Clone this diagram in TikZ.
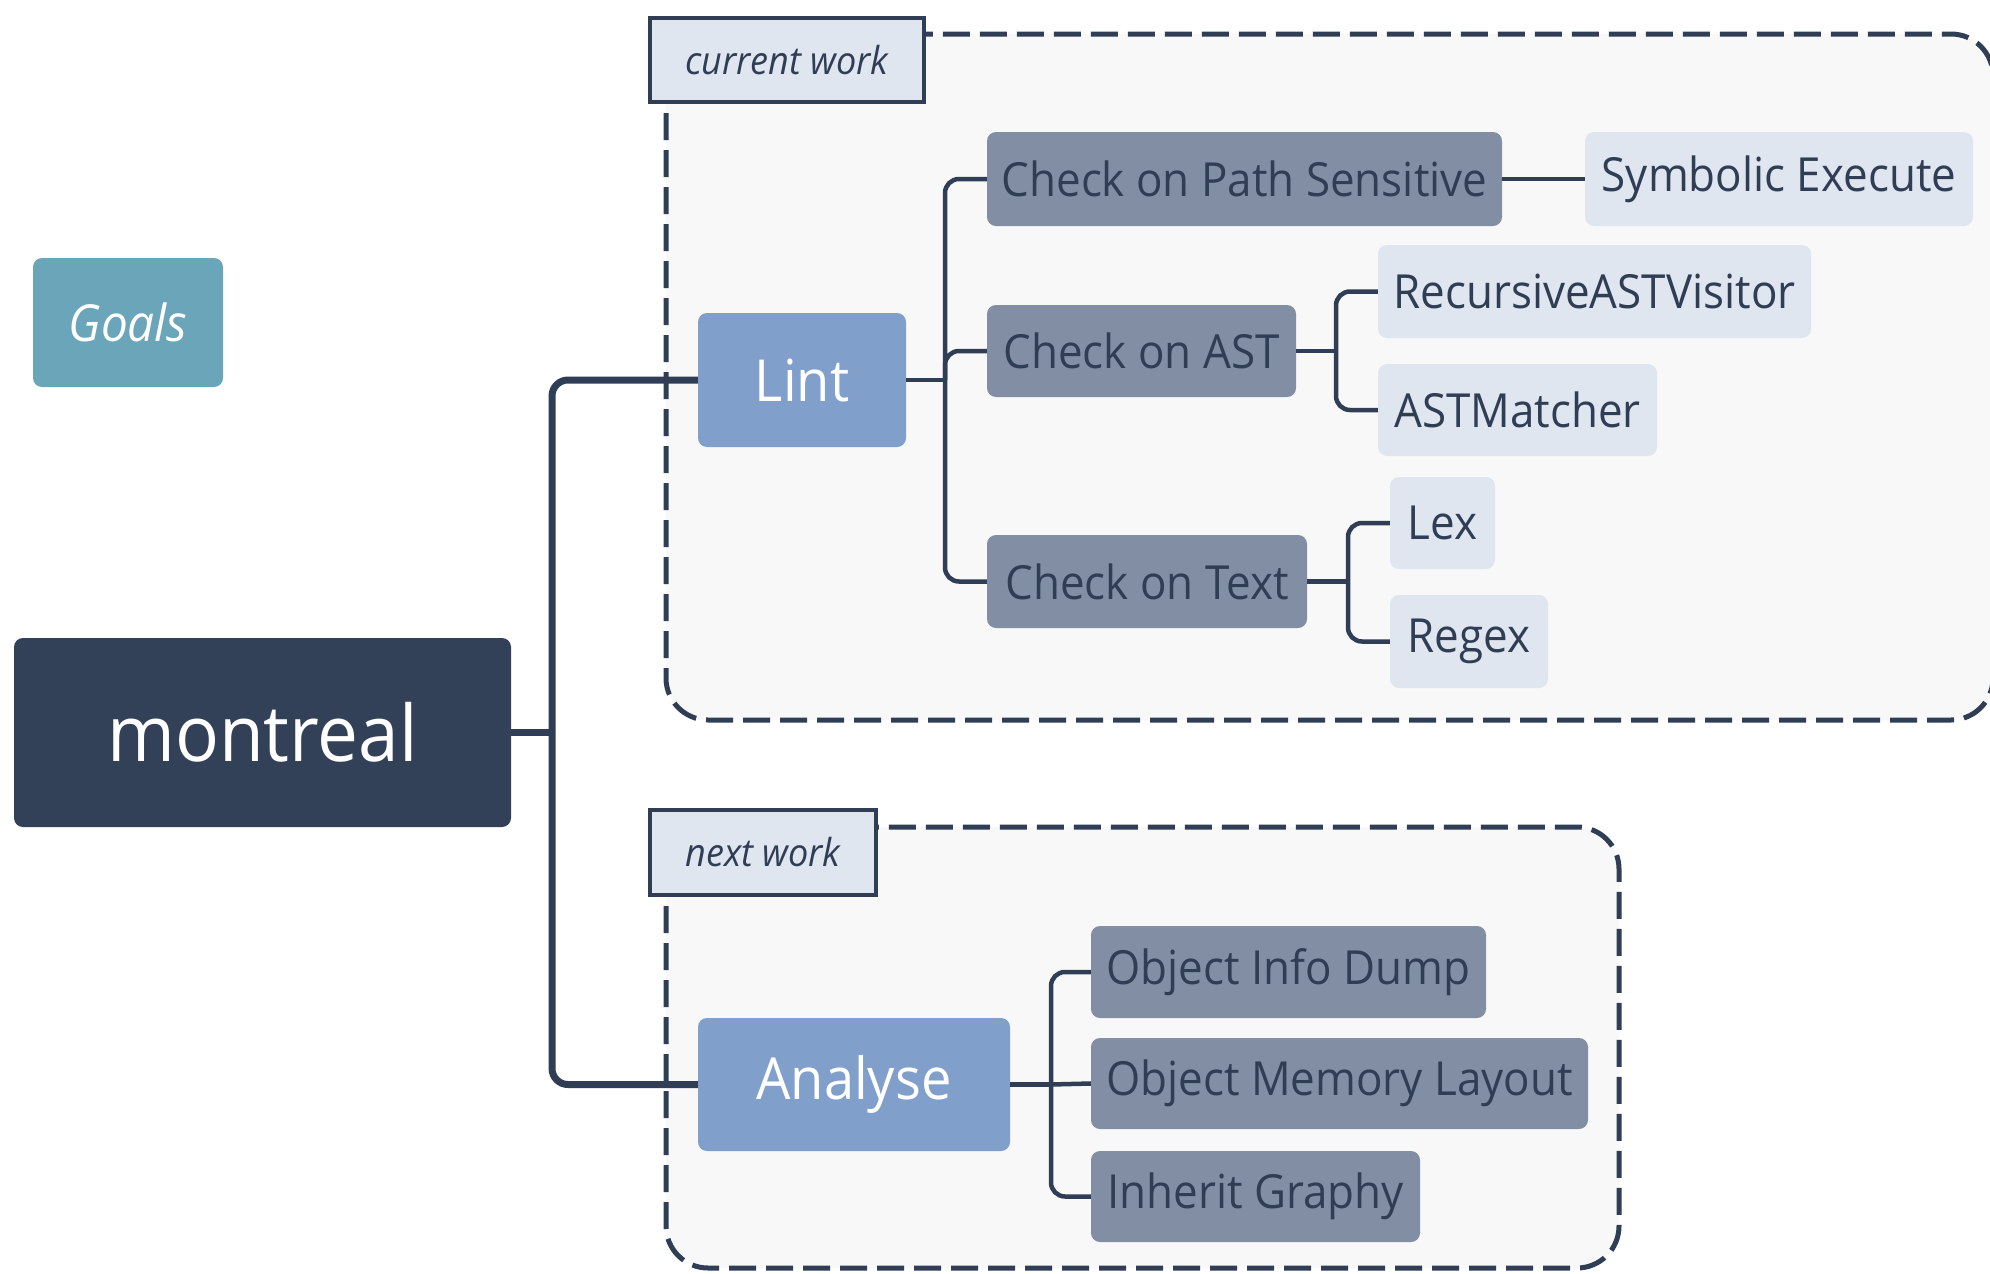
\documentclass[tikz,border=0pt]{standalone}
\usepackage{fontspec}
\setmainfont{Open Sans}[FakeStretch=0.935]
\begin{document}
\begin{tikzpicture}[x=1pt,y=-1pt,
  box/.style={rounded corners=9pt, inner sep=0pt, align=center},
  rootbox/.style={box, fill=navyfill, text=white, font=\fontsize{78}{86}\selectfont},
  goalbox/.style={box, fill=goalfill, text=white, font=\fontsize{51}{58}\selectfont\itshape},
  topicbox/.style={box, fill=bluefill, text=white, font=\fontsize{58}{64}\selectfont},
  graybox/.style={box, fill=grayfill, text=ink, font=\fontsize{47}{53}\selectfont},
  lightbox/.style={box, fill=lightfill, text=ink, font=\fontsize{47}{53}\selectfont},
  tagbox/.style={draw=ink, line width=4.5pt, fill=lightfill, inner sep=0pt, text=ink, font=\fontsize{38.5}{44}\selectfont\itshape},
  frame/.style={draw=ink, line width=5pt, dash pattern=on 27pt off 10pt, fill=framefill, rounded corners=42pt},
  trunk/.style={draw=ink, line width=7pt, rounded corners=16pt},
  twig/.style={draw=ink, line width=4.5pt, rounded corners=14pt},
]
\definecolor{ink}{HTML}{2F3D55}
\definecolor{navyfill}{HTML}{324058}
\definecolor{goalfill}{HTML}{6BA5B9}
\definecolor{bluefill}{HTML}{809FCB}
\definecolor{grayfill}{HTML}{828EA3}
\definecolor{lightfill}{HTML}{E0E6F0}
\definecolor{framefill}{HTML}{F8F8F9}

\useasboundingbox (0,0) rectangle (1990,1274);
\fill[white] (0,0) rectangle (1990,1274);

% group frames
\path[frame] (666,34) rectangle (1993,720);
\path[frame] (666,827) rectangle (1619,1268);

% nodes
\node[goalbox, minimum width=190pt, minimum height=129pt] (goals) at (128,322.5) {Goals};
\node[rootbox, minimum width=497pt, minimum height=189pt] (montreal) at (262.5,732.5) {montreal};

\node[tagbox, minimum width=274pt, minimum height=84pt] (tagcur) at (787,60) {current work};
\node[tagbox, minimum width=226pt, minimum height=85pt] (tagnext) at (763,852.5) {next work};

\node[topicbox, minimum width=208pt, minimum height=134pt] (lint) at (802,380) {Lint};
\node[topicbox, minimum width=312pt, minimum height=133pt] (analyse) at (854,1084.5) {Analyse};

\node[graybox, minimum width=515pt, minimum height=94pt] (cps) at (1244.5,179) {Check on Path Sensitive};
\node[lightbox, minimum width=388pt, minimum height=94pt] (sym) at (1779,179) {Symbolic Execute};
\node[graybox, minimum width=309pt, minimum height=92pt] (cast) at (1141.5,351) {Check on AST};
\node[lightbox, minimum width=433pt, minimum height=93pt] (rav) at (1594.5,291.5) {RecursiveASTVisitor};
\node[lightbox, minimum width=279pt, minimum height=92pt] (astm) at (1517.5,410) {ASTMatcher};
\node[graybox, minimum width=320pt, minimum height=93pt] (ctext) at (1147,581.5) {Check on Text};
\node[lightbox, minimum width=105pt, minimum height=92pt] (lex) at (1442.5,523) {Lex};
\node[lightbox, minimum width=158pt, minimum height=93pt] (regex) at (1469,641.5) {Regex};

\node[graybox, minimum width=395pt, minimum height=92pt] (oid) at (1288.5,972) {Object Info Dump};
\node[graybox, minimum width=497pt, minimum height=91pt] (oml) at (1339.5,1083.5) {Object Memory Layout};
\node[graybox, minimum width=329pt, minimum height=91pt] (ig) at (1255.5,1196.5) {Inherit Graphy};

% branching points
\coordinate (j0) at (552,732.5);
\coordinate (j1) at (945,380);
\coordinate (j2) at (1336,351);
\coordinate (j3) at (1348,581.5);
\coordinate (j4) at (1051,1084.5);

% connectors
\draw[trunk] (montreal.east) -- (j0);
\draw[trunk] (lint.west) -| (j0) |- (analyse.west);

\draw[twig] (lint.east) -- (j1);
\draw[twig] (cps.west) -| (j1) |- (ctext.west);
\draw[twig] (cast.west) -| (j1);

\draw[twig] (cps.east) -- (sym.west);

\draw[twig] (cast.east) -- (j2);
\draw[twig] (rav.west) -| (j2) |- (astm.west);

\draw[twig] (ctext.east) -- (j3);
\draw[twig] (lex.west) -| (j3) |- (regex.west);

\draw[twig] (analyse.east) -- (j4);
\draw[twig] (oid.west) -| (j4) |- (ig.west);
\draw[twig] (j4) -- (oml.west);
\end{tikzpicture}
\end{document}
